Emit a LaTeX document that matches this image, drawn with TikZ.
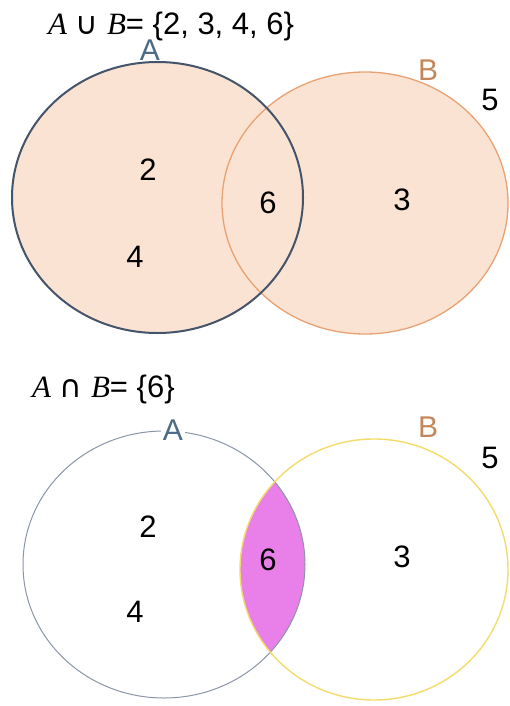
\documentclass[tikz,border=0pt]{standalone}
\usepackage{fontspec}
\setmainfont{Liberation Sans}
\newfontfamily\setfont{Liberation Serif}
\newfontfamily\opfont{DejaVu Sans}
\usepackage{xcolor}
\definecolor{SoftPeach}{HTML}{FBE3D3}
\definecolor{SlateLine}{HTML}{44546A}
\definecolor{PeachLine}{HTML}{E8A272}
\definecolor{GrayLine}{HTML}{8A96A8}
\definecolor{YellowLine}{HTML}{F3DC6A}
\definecolor{Orchid}{HTML}{E97FE8}
\definecolor{LabelA}{HTML}{4B6B86}
\definecolor{LabelB}{HTML}{C4875A}
\usepackage{tikz}
\usetikzlibrary{positioning}
\newcommand{\setname}[1]{{\setfont\itshape #1}}

\begin{document}
\begin{tikzpicture}[x=1pt, y=-1pt, every node/.style={inner sep=0pt}]
\tikzset{num/.style={font=\fontsize{31}{36}\selectfont, text=black}}
\tikzset{title/.style={font=\fontsize{31}{36}\selectfont, anchor=base west}}
\tikzset{setlabel/.style={font=\fontsize{30}{36}\selectfont}}
\useasboundingbox (0,0) rectangle (509,706);
\fill[white] (0,0) rectangle (509,706);

% union
\node[title] (union) at (48,35) {\setname{A} {\opfont ∪} \setname{B}= \{2, 3, 4, 6\}};
\fill[SoftPeach] (157.5,197.5) ellipse [x radius=145.5, y radius=135.5];
\fill[SoftPeach] (365,203) ellipse [x radius=143, y radius=131];
\draw[PeachLine, line width=1.3pt] (365,203) ellipse [x radius=143, y radius=131];
\draw[SlateLine, line width=2pt] (157.5,197.5) ellipse [x radius=145.5, y radius=135.5];
\node[setlabel, text=LabelA] (ua) at (150,50) {A};
\node[setlabel, text=LabelB] (ub) at (428,70) {B};
\node[num] (u5) at (490,100) {5};
\node[num] (u2) at (148,170) {2};
\node[num] (u4) at (135,257) {4};
\node[num] (u6) at (268,203) {6};
\node[num] (u3) at (402,200) {3};

% intersection
\node[title] (inter) at (32,397) {\setname{A} {\opfont ∩} \setname{B}= \{6\}};
\begin{scope}
  \clip (164,564.5) ellipse [x radius=141, y radius=133.5];
  \fill[Orchid] (374,569.5) ellipse [x radius=134, y radius=130.5];
\end{scope}
\draw[GrayLine, line width=1pt] (164,564.5) ellipse [x radius=141, y radius=133.5];
\draw[YellowLine, line width=1.4pt] (374,569.5) ellipse [x radius=134, y radius=130.5];
\node[setlabel, text=LabelA, fill=white, inner xsep=2pt] (ia) at (173,430) {A};
\node[setlabel, text=LabelB] (ib) at (428,427) {B};
\node[num] (i5) at (490,458) {5};
\node[num] (i2) at (148,527) {2};
\node[num] (i4) at (135,612) {4};
\node[num] (i6) at (268,560) {6};
\node[num] (i3) at (402,557) {3};
\end{tikzpicture}
\end{document}
